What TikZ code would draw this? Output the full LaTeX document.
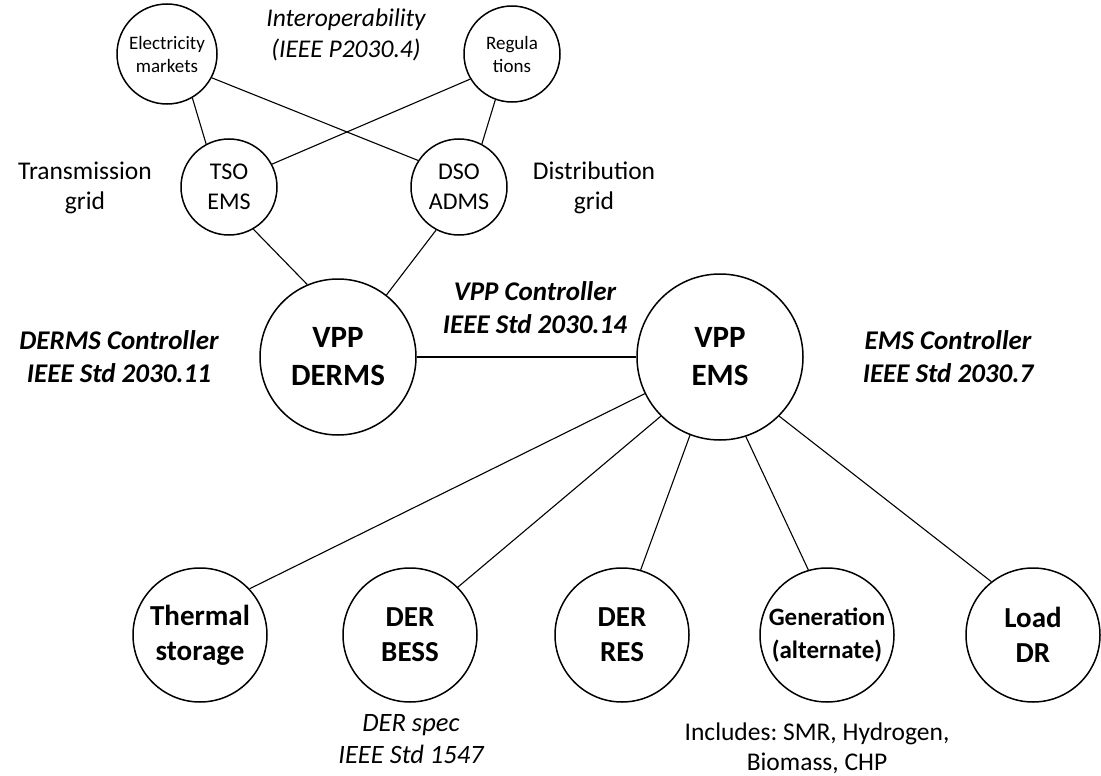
\documentclass[tikz,border=0pt]{standalone}
\usepackage{fontspec}
\setmainfont{Carlito}
\frenchspacing
\begin{document}
\begin{tikzpicture}[x=1pt,y=-1pt,
  circ/.style={circle, draw, line width=1.5pt, inner sep=0pt, align=center},
  conn/.style={line width=1.1pt},
  lbl/.style={align=center, inner sep=0pt},
  fsmall/.style={font=\fontsize{19}{23}\selectfont},
  fmid/.style={font=\fontsize{24}{30}\selectfont},
  flab/.style={font=\fontsize{25.5}{30}\selectfont},
  fbig/.style={font=\bfseries\fontsize{31}{38}\selectfont},
  fbot/.style={font=\bfseries\fontsize{29}{35}\selectfont},
  fbi/.style={font=\bfseries\itshape\fontsize{27}{33}\selectfont},
  fit/.style={font=\itshape\fontsize{25.5}{31}\selectfont}]
\useasboundingbox (0,0) rectangle (1101,776);

% top row
\node[circ, fsmall, minimum size=100pt] (elec) at (167,54) {Electricity\\markets};
\node[circ, fsmall, minimum size=96pt] (reg) at (512,54) {Regula\\tions};
\node[circ, fmid, minimum size=96pt] (tso) at (229,187) {TSO\\EMS};
\node[circ, fmid, minimum size=96pt] (dso) at (459,187) {DSO\\ADMS};

% middle
\node[circ, fbig, minimum size=156pt] (derms) at (338,357) {VPP\\DERMS};
\node[circ, fbig, minimum size=166pt] (ems) at (720,357) {VPP\\EMS};

% bottom row
\node[circ, fbot, minimum size=134pt] (therm) at (200,635) {Thermal\\storage};
\node[circ, fbot, minimum size=134pt] (bess) at (410,635) {DER\\BESS};
\node[circ, fbot, minimum size=134pt] (res) at (622,635) {DER\\RES};
\node[circ, font=\bfseries\fontsize{25}{33}\selectfont, minimum size=134pt] (gen) at (827,635) {Generation\\(alternate)};
\node[circ, fbot, minimum size=134pt] (load) at (1033,635) {Load\\DR};

% labels
\node[lbl, fit] (interop) at (346,35) {Interoperability\\(IEEE P2030.4)};
\node[lbl, flab] (trans) at (85,188) {Transmission\\grid};
\node[lbl, flab] (distr) at (594,188) {Distribution\\grid};
\node[lbl, fbi] (dermsc) at (119,357) {DERMS Controller\\IEEE Std 2030.11};
\node[lbl, fbi] (vppc) at (535,308) {VPP Controller\\IEEE Std 2030.14};
\node[lbl, fbi] (emsc) at (948,357) {EMS Controller\\IEEE Std 2030.7};
\node[lbl, font=\itshape\fontsize{26.5}{32}\selectfont] (derspec) at (411,739) {DER spec\\IEEE Std 1547};
\node[lbl, flab] (incl) at (817,748) {Includes: SMR, Hydrogen,\\Biomass, CHP};

% connectors
\draw[conn] (elec.-60) -- (tso.118);
\draw[conn] (elec.-28) -- (dso.147);
\draw[conn] (reg.-149) -- (tso.28);
\draw[conn] (reg.-110) -- (dso.62);
\draw[conn] (tso.-60) -- (derms.113);
\draw[conn] (dso.-118) -- (derms.52);
\draw[conn] (derms) -- (ems);
\draw[conn] (ems.206) -- (therm.43);
\draw[conn] (ems.225) -- (bess.45);
\draw[conn] (ems.249) -- (res.74);
\draw[conn] (ems.288) -- (gen.106);
\draw[conn] (ems.315) -- (load.128);
\end{tikzpicture}
\end{document}
